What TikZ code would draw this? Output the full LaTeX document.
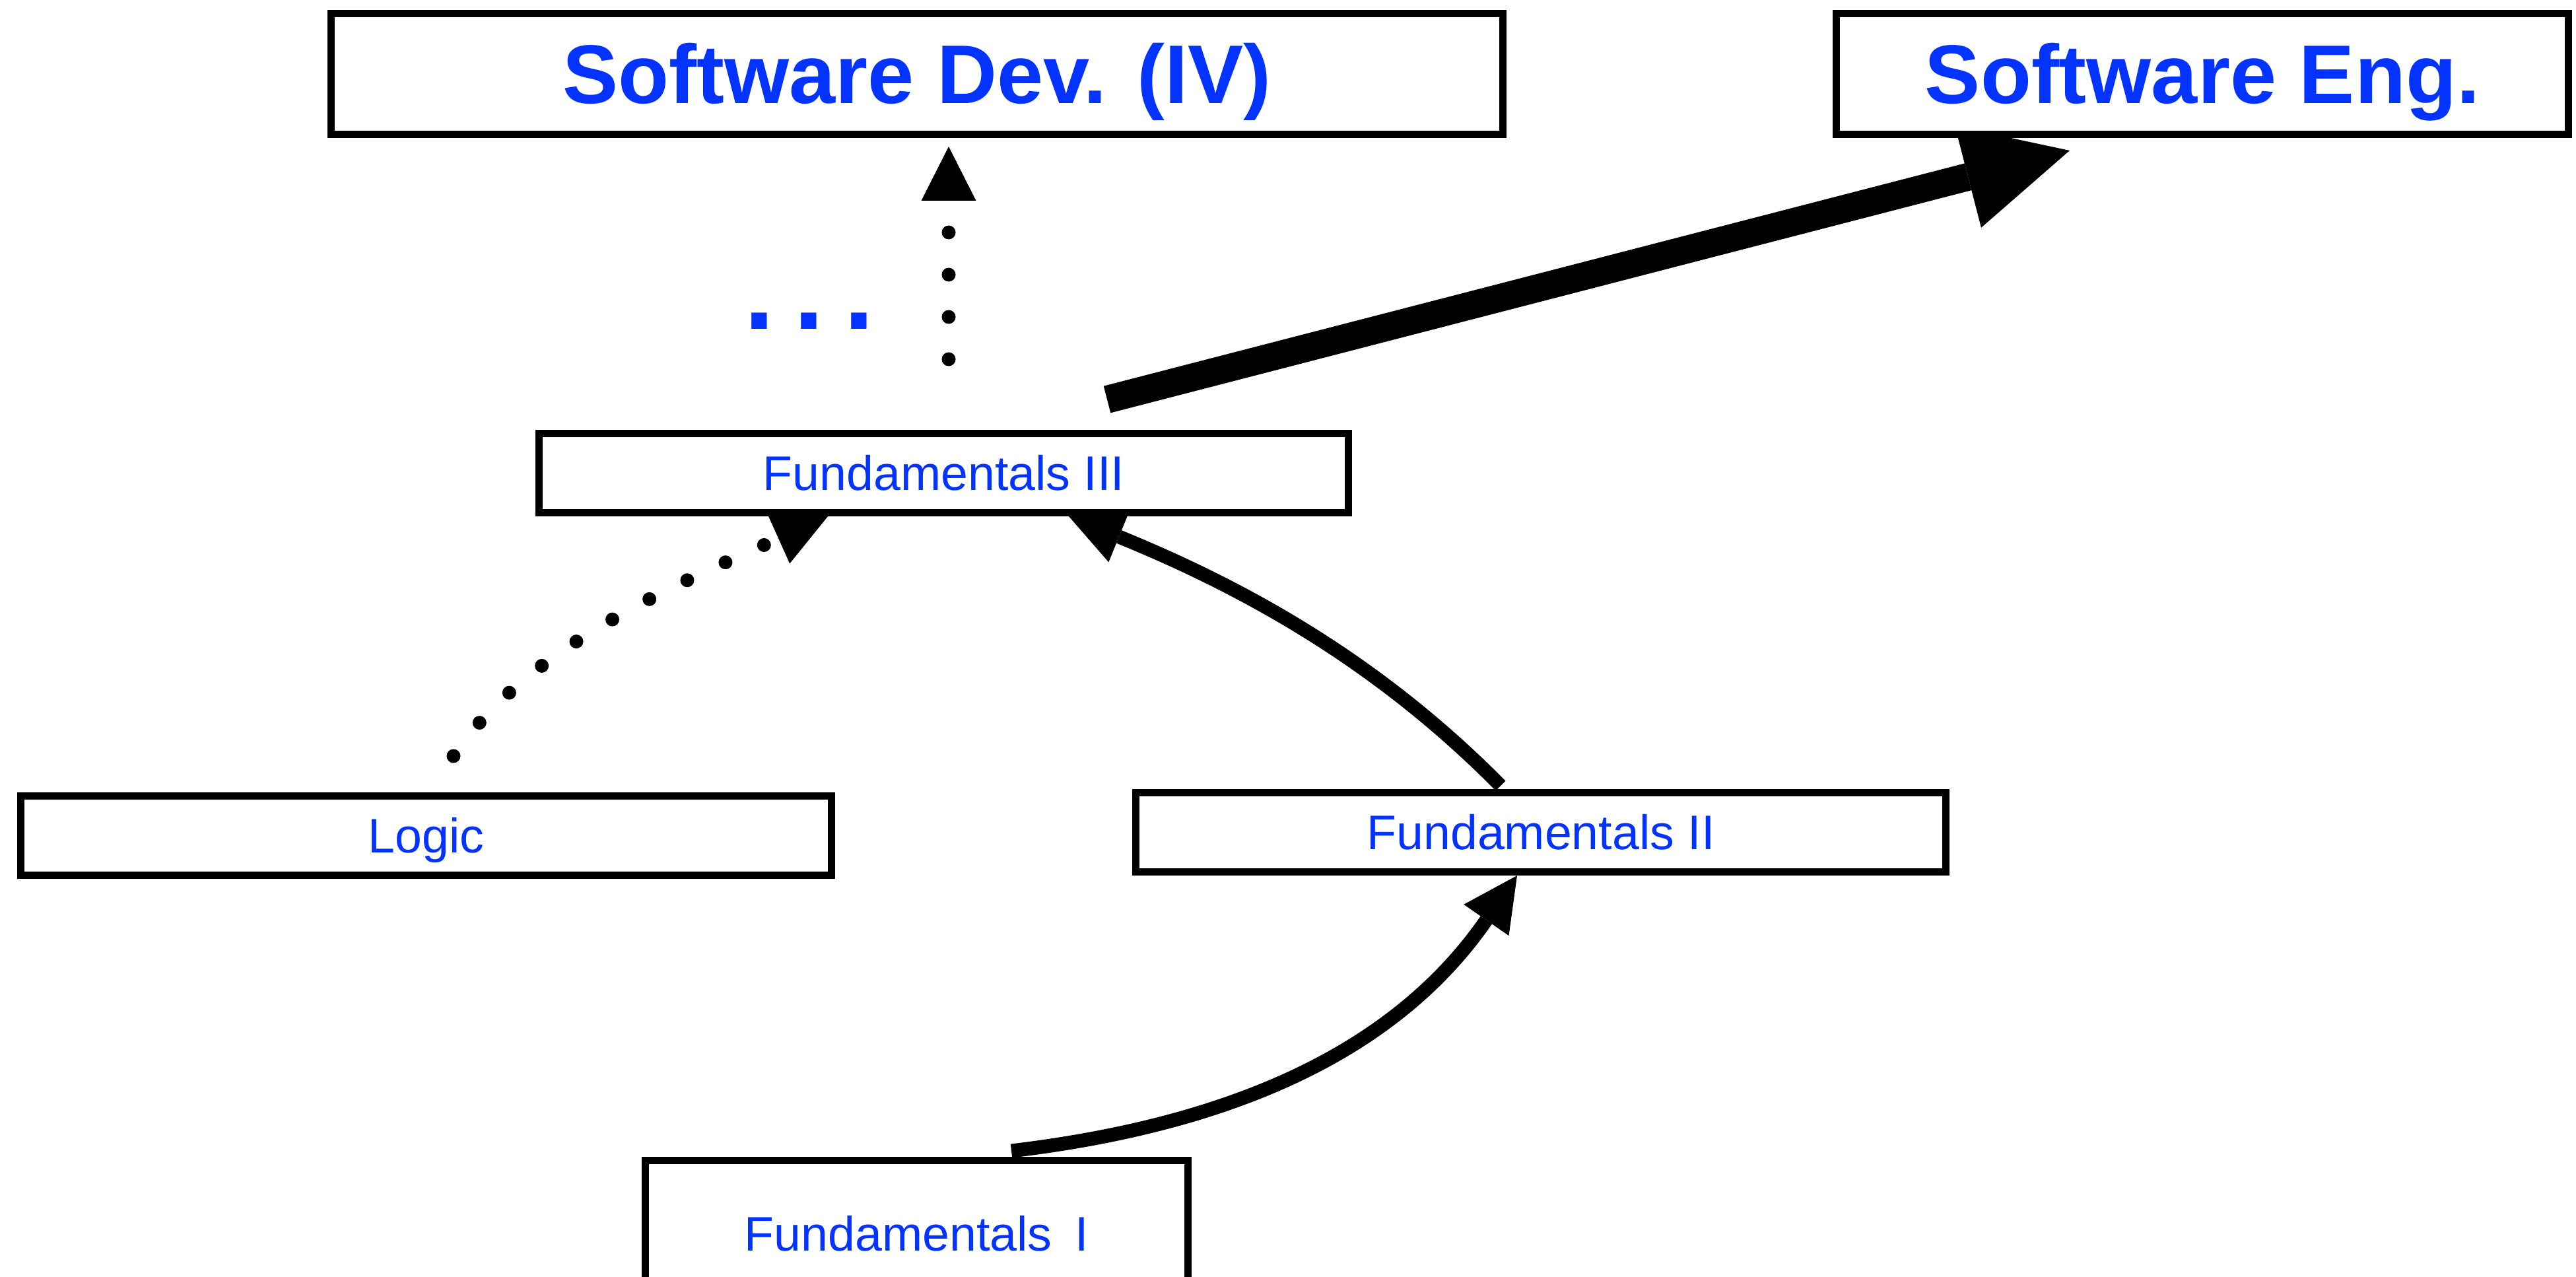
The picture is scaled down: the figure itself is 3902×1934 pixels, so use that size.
\documentclass[tikz,border=0pt]{standalone}
\usepackage{fontspec}
\setmainfont{Liberation Sans}
\usetikzlibrary{arrows.meta}
\definecolor{labelblue}{RGB}{4,51,255}
\pgfdeclarelayer{links}
\pgfsetlayers{links,main}

\tikzset{
  course/.style={draw=black, line width=11pt, fill=white, inner sep=0pt,
    text=labelblue, font=\fontsize{73.5pt}{80pt}\selectfont,
    text height=52.6pt, text depth=0pt, minimum height=120pt},
  topcourse/.style={course, font=\fontsize{126pt}{130pt}\selectfont\bfseries,
    text height=90pt, minimum height=183pt},
  smallhead/.style={-{Triangle[length=82pt, width=83pt, line width=0pt]}},
  bighead/.style={-{Triangle[length=159pt, width=159pt, line width=0pt]}},
  solidlink/.style={line width=21pt, smallhead},
  dotlink/.style={line width=21pt, line cap=round, dash pattern=on 0pt off 64pt, smallhead},
  mainlink/.style={line width=42pt, bighead},
}

\begin{document}
\begin{tikzpicture}[x=1pt, y=-1pt]
  \useasboundingbox (0,0) rectangle (3902,1934);
  \clip (0,0) rectangle (3902,1934);

  % course boxes
  \node[topcourse, minimum width=1775pt] (sd) at (1389,112) {Software Dev. (IV)};
  \node[topcourse, minimum width=1109pt] (se) at (3336,112) {Software Eng.};
  \node[course, minimum width=1226pt] (f3) at (1429.5,716.5) {Fundamentals III};
  \node[course, minimum width=1228pt] (logic) at (645.5,1265.5) {Logic};
  \node[course, minimum width=1227pt] (f2) at (2334,1260.5) {Fundamentals II};
  \node[course, minimum width=822pt, minimum height=221pt] (f1) at (1388.5,1868)
    {Fundamentals\hspace{0.48em}I};

  % continuation marker
  \node[anchor=base, inner sep=0pt, text=labelblue,
        font=\fontsize{165pt}{170pt}\selectfont\bfseries] (more) at (1226,498)
    {.\kern30pt.\kern30pt.};

  \begin{pgfonlayer}{links}
    % prerequisites
    \draw[solidlink] ([xshift=143.5pt, yshift=9pt]f1.north)
      .. controls +(370,-44) and +(-171,247) .. ([xshift=-36pt]f2.south);
    \draw[dotlink] ([xshift=41.5pt, yshift=55pt]logic.north)
      .. controls +(112,-166) and +(-228,102.5) .. ([xshift=-175.5pt]f3.south);
    \draw[solidlink] ([xshift=-61pt, yshift=5pt]f2.north)
      .. controls +(-175,-177) and +(285,116) .. ([xshift=189.5pt]f3.south);
    \draw[dotlink] ([xshift=7.5pt, yshift=107pt]f3.north)
      -- ([xshift=48pt, yshift=-13pt]sd.south);
    \draw[mainlink] ([xshift=247.5pt, yshift=46pt]f3.north)
      -- ([xshift=-201pt, yshift=-19pt]se.south);
  \end{pgfonlayer}
\end{tikzpicture}
\end{document}
